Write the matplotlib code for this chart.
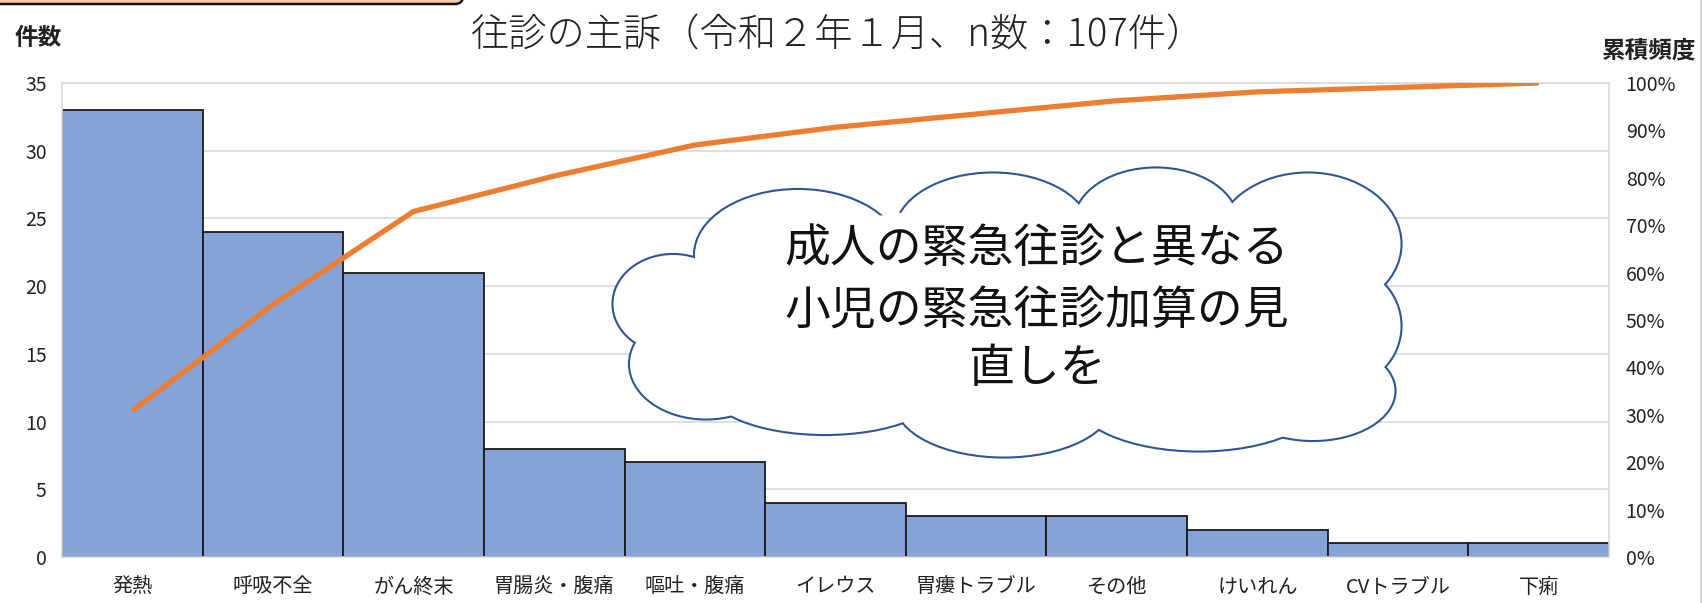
import numpy as np
import matplotlib
matplotlib.use("Agg")
import matplotlib.pyplot as plt
from matplotlib.patches import Ellipse, FancyBboxPatch
from matplotlib.ticker import FixedLocator, PercentFormatter

plt.rcParams['font.family'] = ['Noto Sans CJK JP', 'DejaVu Sans']

# ---- data ----
categories = ["発熱", "呼吸不全", "がん終末", "胃腸炎・腹痛", "嘔吐・腹痛", "イレウス",
              "胃瘻トラブル", "その他", "けいれん", "CVトラブル", "下痢"]
counts = [33, 24, 21, 8, 7, 4, 3, 3, 2, 1, 1]
count_ticks = [0, 5, 10, 15, 20, 25, 30, 35]
pct_ticks = [0.0, 0.1, 0.2, 0.3, 0.4, 0.5, 0.6, 0.7, 0.8, 0.9, 1.0]

title = "往診の主訴（令和２年１月、n数：107件）"
left_label = "件数"
right_label = "累積頻度"
note_lines = ["成人の緊急往診と異なる", "小児の緊急往診加算の見", "直しを"]

cumulative = np.cumsum(counts) / np.sum(counts)
x = np.arange(len(categories))

W, H = 1702, 603
fig = plt.figure(figsize=(W / 100, H / 100), dpi=100)
fig.patch.set_facecolor("white")

ax_l, ax_r, ax_b, ax_t = 62, 1609, 557, 83
ax = fig.add_axes([ax_l / W, (H - ax_b) / H, (ax_r - ax_l) / W, (ax_b - ax_t) / H])

ax.bar(x, counts, width=1.0, color="#86A3D8", edgecolor="#1a1a1a", linewidth=1.3, zorder=2)
ax.set_xlim(-0.5, len(categories) - 0.5)
ax.set_ylim(0, 35)
ax.yaxis.set_major_locator(FixedLocator(count_ticks))
ax.grid(axis="y", color="#D9D9D9", linewidth=1.2, zorder=0)
ax.set_axisbelow(True)
ax.set_xticks(x)
ax.set_xticklabels(categories, fontsize=14.5, color="#222222")
ax.tick_params(axis="x", length=0, pad=14)
ax.tick_params(axis="y", length=0, pad=11, labelsize=14, labelcolor="#222222")
for s in ax.spines.values():
    s.set_color("#D9D9D9")
    s.set_linewidth(1.2)

ax2 = ax.twinx()
ax2.plot(x, cumulative, color="#ED7D31", linewidth=3.8, solid_capstyle="butt",
         solid_joinstyle="round", zorder=3)
ax2.set_ylim(0, 1.0)
ax2.yaxis.set_major_locator(FixedLocator(pct_ticks))
ax2.yaxis.set_major_formatter(PercentFormatter(1.0, decimals=0))
ax2.tick_params(axis="y", length=0, pad=12, labelsize=14, labelcolor="#222222")
for s in ax2.spines.values():
    s.set_visible(False)

fig.text(837 / W, 1 - 36 / H, title, ha="center", va="center", fontsize=27.5,
         fontweight="light", color="#222222")
fig.text(38 / W, 1 - 38 / H, left_label, ha="center", va="center", fontsize=17,
         fontweight="bold", color="#222222")
fig.text(1649 / W, 1 - 50 / H, right_label, ha="center", va="center", fontsize=17,
         fontweight="bold", color="#222222")

# overlay in pixel coordinates for the speech cloud and frame details
ov = fig.add_axes([0, 0, 1, 1], zorder=10)
ov.set_xlim(0, W)
ov.set_ylim(H, 0)
ov.axis("off")
ov.patch.set_alpha(0)

lobes = [
    (798, 255, 206, 130), (993, 233, 195, 119), (1156, 223, 163, 109),
    (1308, 244, 185, 141), (1341, 326, 119, 119), (1313, 391, 163, 98),
    (1199, 396, 250, 109), (1004, 402, 217, 109), (825, 385, 239, 98),
    (706, 364, 152, 109), (673, 304, 119, 98),
]
cloud_edge = "#2F5597"
for cx, cy, w, h in lobes:
    ov.add_patch(Ellipse((cx, cy), w, h, facecolor="white", edgecolor=cloud_edge,
                         linewidth=3.0, zorder=1))
for cx, cy, w, h in lobes:
    ov.add_patch(Ellipse((cx, cy), w, h, facecolor="white", edgecolor="none", zorder=2))
ov.add_patch(Ellipse((1010, 315), 651, 217, facecolor="white", edgecolor="none", zorder=2))

for yy, line in zip([249, 311, 369], note_lines):
    ov.text(1037, yy, line, ha="center", va="center", fontsize=33, color="#111111", zorder=3)

# top banner edge and right border
ov.add_patch(FancyBboxPatch((-20, -30), 483, 34, boxstyle="round,pad=0,rounding_size=8",
                            facecolor="#F8CBAD", edgecolor="#111111", linewidth=1.8,
                            clip_on=False, zorder=1))
ov.plot([1700.5, 1700.5], [0, H], color="#D0D0D0", linewidth=1.2, zorder=1)

fig.savefig("out.png", dpi=100)
